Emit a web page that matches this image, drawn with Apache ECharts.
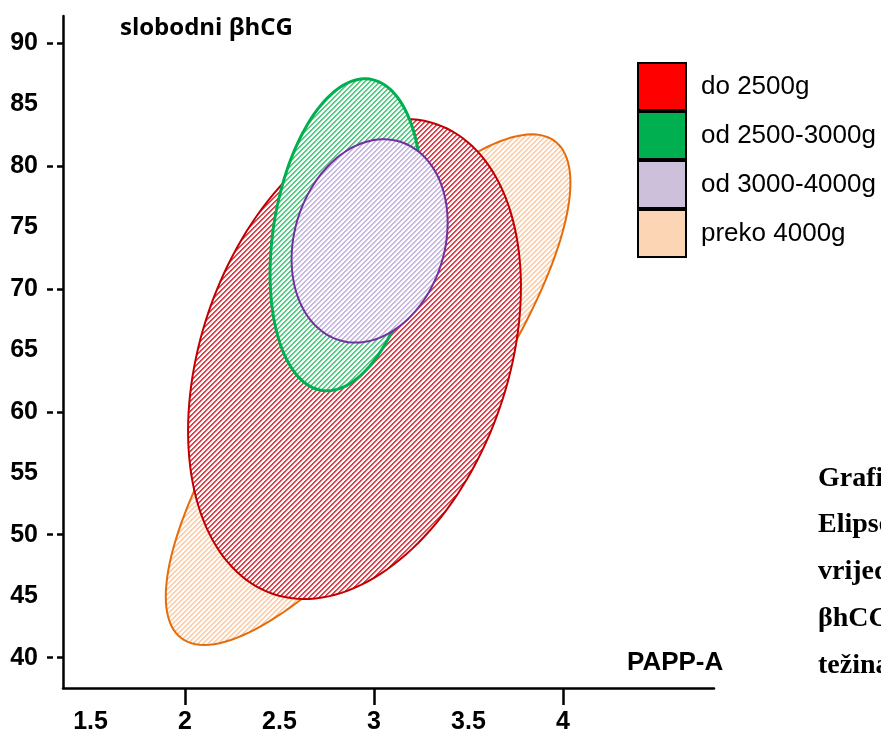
<!DOCTYPE html>
<html>
<head>
<meta charset="utf-8">
<script src="https://cdn.jsdelivr.net/npm/echarts@6/dist/echarts.min.js"></script>
<style>
  html, body { margin: 0; padding: 0; background: #fff; }
  #chart { width: 881px; height: 735px; }
</style>
</head>
<body>
<div id="chart"></div>
<script>
// skupine po porodajnoj tezini
const groups = ['do 2500g', 'od 2500-3000g', 'od 3000-4000g', 'preko 4000g'];
// elipse: srediste, raspon po osima i korelacija (ocitano sa slike)
const centerPAPPA = [2.897, 2.852, 2.977, 2.969];
const centerBhCG = [64.3, 74.4, 73.9, 61.8];
const spreadPAPPA = [0.881, 0.402, 0.413, 1.071];
const spreadBhCG = [19.53, 12.69, 8.27, 20.77];
const correlation = [0.30, 0.25, 0.18, 0.81];
// redoslijed crtanja (najveca dolje)
const drawOrder = [3, 0, 1, 2];

const yLabels = [40, 45, 50, 55, 60, 65, 70, 75, 80, 85, 90];
const yTicks = [40, 50, 60, 70, 80, 90];
const xLabels = [1.5, 2, 2.5, 3, 3.5, 4];
const xTicks = [2, 3, 4];

const legendColors = ['#ff0000', '#00b050', '#ccc0da', '#fcd5b4'];
const strokeColors = ['#c00000', '#00b050', '#7030a0', '#e46c0a'];
const stripeColors = [[212, 70, 80], [90, 200, 135], [200, 185, 222], [251, 206, 172]];
const strokeWidths = [2, 3, 2, 2];

// srafura "/"
function makeHatch(rgb) {
    const s = 5;
    const c = document.createElement('canvas');
    c.width = s; c.height = s;
    const ctx = c.getContext('2d');
    const img = ctx.createImageData(s, s);
    for (let y = 0; y < s; y++) {
        for (let x = 0; x < s; x++) {
            const k = (x + y) % s;
            let a = 0;
            if (k === 0 || k === 1) a = 1;
            else if (k === 2) a = 0.3;
            const i = (y * s + x) * 4;
            img.data[i] = Math.round(255 + (rgb[0] - 255) * a);
            img.data[i + 1] = Math.round(255 + (rgb[1] - 255) * a);
            img.data[i + 2] = Math.round(255 + (rgb[2] - 255) * a);
            img.data[i + 3] = 255;
        }
    }
    ctx.putImageData(img, 0, 0);
    return c;
}
const hatches = stripeColors.map(makeHatch);

function renderEllipse(params, api) {
    const gi = drawOrder[params.seriesIndex];
    const cx = api.value(0), cy = api.value(1);
    const sx = api.value(2), sy = api.value(3), r = api.value(4);
    const pts = [];
    for (let i = 0; i < 160; i++) {
        const t = i / 160 * Math.PI * 2;
        const x = cx + sx * Math.cos(t);
        const y = cy + sy * (r * Math.cos(t) + Math.sqrt(1 - r * r) * Math.sin(t));
        pts.push(api.coord([x, y]));
    }
    return {
        type: 'polygon',
        shape: { points: pts },
        style: {
            fill: { image: hatches[gi], repeat: 'repeat' },
            stroke: strokeColors[gi],
            lineWidth: strokeWidths[gi]
        }
    };
}

const chart = echarts.init(document.getElementById('chart'));

const series = drawOrder.map(gi => ({
    type: 'custom',
    name: groups[gi],
    renderItem: renderEllipse,
    itemStyle: { color: legendColors[gi] },
    encode: { x: 0, y: 1 },
    data: [[centerPAPPA[gi], centerBhCG[gi], spreadPAPPA[gi], spreadBhCG[gi], correlation[gi]]],
    silent: true
}));

const axisFont = { fontFamily: 'Liberation Sans', fontWeight: 'bold', fontSize: 25, color: '#000' };

chart.setOption({
    animation: false,
    backgroundColor: '#fff',
    grid: { left: 63, right: 167, top: 16, bottom: 47 },
    xAxis: {
        type: 'value',
        min: 1.354,
        max: 4.8,
        splitLine: { show: false },
        axisLine: { lineStyle: { color: '#000', width: 2.5 } },
        axisTick: { customValues: xTicks, length: 17, lineStyle: { color: '#000', width: 2.5 } },
        axisLabel: Object.assign({ customValues: xLabels, margin: 22 }, axisFont)
    },
    yAxis: {
        type: 'value',
        min: 37.53,
        max: 92.2,
        splitLine: { show: false },
        axisLine: { lineStyle: { color: '#000', width: 2.5 } },
        axisTick: { customValues: yTicks, length: 16, lineStyle: { color: '#000', width: 2.5, type: [6, 4] } },
        axisLabel: Object.assign({ customValues: yLabels, margin: 25 }, axisFont)
    },
    legend: {
        orient: 'vertical',
        left: 637,
        top: 62,
        padding: 0,
        itemWidth: 48,
        itemHeight: 47,
        itemGap: 0,
        icon: 'rect',
        data: groups.map((g, i) => ({
            name: g,
            itemStyle: { color: legendColors[i], borderColor: '#000', borderWidth: 2 }
        })),
        textStyle: { fontFamily: 'Liberation Sans', fontSize: 26, color: '#000', padding: [0, 0, 0, 10] },
        selectedMode: false
    },
    graphic: [
        { type: 'text', left: 120, top: 16, style: { text: 'slobodni βhCG', font: 'bold 24px "Open Sans"', fill: '#000' } },
        { type: 'text', left: 627, top: 650, style: { text: 'PAPP-A', font: 'bold 26px "Liberation Sans"', fill: '#000' } },
        { type: 'text', left: 818, top: 455, style: { text: 'Grafikon\nElipse\nvrijednosti\nβhCG\ntežina', font: 'bold 28px "Liberation Serif"', lineHeight: 46.75, fill: '#000' } }
    ],
    series: series
});
</script>
</body>
</html>
